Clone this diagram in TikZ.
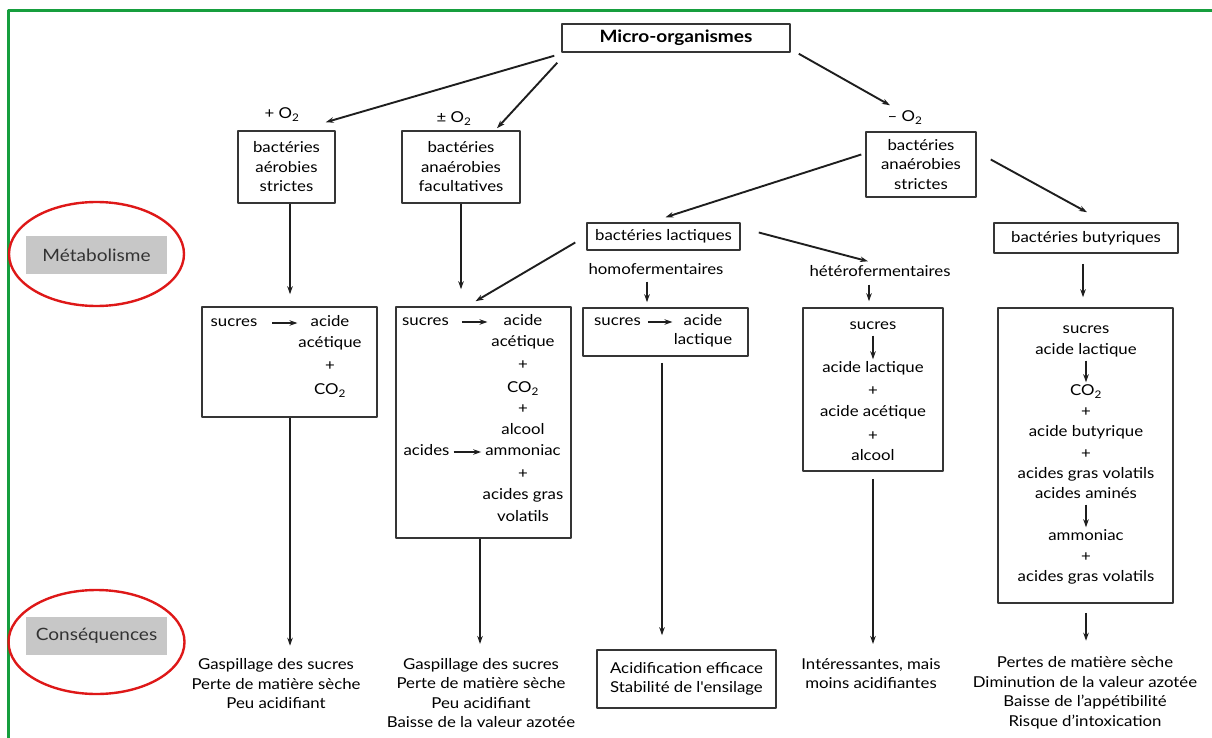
\documentclass[tikz,border=0pt]{standalone}
\usepackage{fontspec}
\setmainfont{Lato}[FakeStretch=1.12]
\usetikzlibrary{arrows.meta}
\definecolor{cadre}{RGB}{22,158,62}
\definecolor{ovale}{RGB}{222,24,24}
\definecolor{trait}{RGB}{30,30,30}
\tikzset{
	boite/.style={draw=trait!90, line width=1.5pt, inner sep=0pt, align=center},
	txt/.style={inner sep=0pt, text height=10pt, text depth=3pt},
	etiq/.style={fill=black!22, text=black!80, minimum width=141, minimum height=38, font=\fontsize{17}{20}\selectfont},
	fl/.style={->, line width=1.9pt, draw=trait},
}
\begin{document}
\begin{tikzpicture}[x=1pt, y=-1pt, font=\fontsize{15}{19.5}\selectfont, >={Stealth[length=8pt,width=5.5pt]}, line join=round]
	\useasboundingbox (0,0) rectangle (1212,738);
	\draw[cadre, line width=3.4] (8.3,738) -- (8.3,10.7) -- (1212,10.7);
	% etiquettes a gauche
	\node[etiq] (met) at (96.5,255) {Métabolisme};
	\node[etiq] (csq) at (96.5,636) {Conséquences};
	\draw[ovale, line width=2.4] ([yshift=1]met.center) ellipse [x radius=87.5, y radius=52];
	\draw[ovale, line width=2.4] ([yshift=-6]csq.center) ellipse [x radius=88, y radius=52];
	% haut
	\node[boite, minimum width=228, minimum height=28, font=\fontsize{17}{20}\bfseries] (micro) at (676,38) {Micro-organismes};
	\node[txt] (o1) at (282,115) {+ O\textsubscript{2}};
	\node[txt] (o2) at (454,119) {± O\textsubscript{2}};
	\node[txt] (o3) at (905,118) {– O\textsubscript{2}};
	\node[boite, minimum width=97, minimum height=72] (aer) at (286.5,167) {bactéries\\aérobies\\strictes};
	\node[boite, minimum width=118, minimum height=72] (fac) at (461,167) {bactéries\\anaérobies\\facultatives};
	\node[boite, minimum width=110, minimum height=65] (stri) at (921,164.5) {bactéries\\anaérobies\\strictes};
	\node[boite, minimum width=153, minimum height=27] (lac) at (663.5,236.5) {bactéries lactiques};
	\node[boite, minimum width=184, minimum height=30] (but) at (1086,238) {bactéries butyriques};
	\node[txt] (homo) at (656,271) {homofermentaires};
	\node[txt] (het) at (880,273) {hétérofermentaires};
	% boites du metabolisme
	\node[boite, minimum width=175, minimum height=110] (mA) at (289.5,362) {};
	\node[boite, minimum width=175, minimum height=231] (mB) at (483.5,422.5) {};
	\node[boite, minimum width=165, minimum height=48] (mC) at (665.5,332) {};
	\node[boite, minimum width=140, minimum height=163] (mD) at (873,389.5) {};
	\node[boite, minimum width=175, minimum height=295] (mE) at (1085.5,455.5) {};
	\draw[fl] ([shift={(-7,3)}]micro.south west) -- ([shift={(-10,-8)}]aer.north east);
	\draw[fl] ([shift={(-4,10)}]micro.south west) -- ([shift={(36,-2)}]fac.north);
	\draw[fl] ([shift={(8,1)}]micro.south east) -- ([shift={(-15,-6)}]o3.north);
	\draw[fl] ([shift={(-4,-10)}]stri.west) -- ([shift={(2,-5)}]lac.north);
	\draw[fl] ([shift={(14,-5)}]stri.east) -- ([shift={(1,-10)}]but.north);
	\draw[fl] ([shift={(18,-4)}]lac.east) -- ([shift={(-12,-5)}]het.north);
	\draw[fl] ([shift={(-11,6)}]lac.west) -- ([shift={(-8,-5)}]mB.north);
	\draw[fl, shorten >=12] ([xshift=0.5]mA.north |- aer.south) -- ([xshift=0.5]mA.north);
	\draw[fl, shorten >=17] (fac.south) -- (fac.south |- mB.north);
	\draw[fl, shorten <=4, shorten >=5] ([xshift=-9]homo.south) -- ([xshift=-9]homo.south |- mC.north);
	\draw[fl, shorten <=5, shorten >=6] ([xshift=-11]het.south) -- ([xshift=-11]het.south |- mD.north);
	\draw[fl, shorten <=10, shorten >=10] ([xshift=-3]but.south) -- ([xshift=-3]but.south |- mE.north);
	% A
	\node[txt] (a0) at (234,323) {sucres};
	\foreach \t/\y [count=\i] in {acide/323, acétique/344, +/367, CO\textsubscript{2}/391}
		\node[txt] (a\i) at (330,\y) {\t};
	\draw[fl, shorten <=15, shorten >=13] (a0) -- (a1);
	% B
	\node[txt] (b0) at (425.5,322) {sucres};
	\node[txt] (bx) at (426.5,452) {acides};
	\foreach \t/\y [count=\i] in {acide/322, acétique/343, +/366, CO\textsubscript{2}/389, +/410, alcool/431, ammoniac/452, +/475, acides gras/496, volatils/518}
		\node[txt] (b\i) at (523,\y) {\t};
	\draw[fl, shorten <=13, shorten >=16] (b0) -- (b1);
	\draw[fl, shorten <=4, shorten >=4] (bx) -- (b7);
	% C
	\node[txt] (c0) at (617.5,322) {sucres};
	\node[txt] (c1) at (703,322) {acide};
	\node[txt] (c2) at (703,341) {lactique};
	\draw[fl, shorten <=7, shorten >=11] (c0) -- (c1);
	% D
	\foreach \t/\y [count=\i] in {sucres/326, acide lactique/369, +/392, acide acétique/413, +/437, alcool/457}
		\node[txt] (d\i) at (873,\y) {\t};
	\draw[fl, shorten <=3, shorten >=3] (d1) -- (d2);
	% E
	\foreach \t/\y [count=\i] in {sucres/330, acide lactique/351, CO\textsubscript{2}/392, +/413, acide butyrique/433, +/455, acides gras volatils/475, acides aminés/495, ammoniac/537, +/558, acides gras volatils/578}
		\node[txt] (e\i) at (1086,\y) {\t};
	\draw[fl, shorten <=3, shorten >=3] (e2) -- (e3);
	\draw[fl, shorten <=3, shorten >=3] (e8) -- (e9);
	% consequences
	\node[align=center, inner sep=0pt] (kA) at (276,684) {Gaspillage des sucres\\Perte de matière sèche\\Peu acidifiant};
	\node[align=center, inner sep=0pt] (kB) at (481,693) {Gaspillage des sucres\\Perte de matière sèche\\Peu acidifiant\\Baisse de la valeur azotée};
	\node[boite, minimum width=179, minimum height=58] (kC) at (686.5,679) {Acidification efficace\\Stabilité de l\textquotesingle ensilage};
	\node[align=center, inner sep=0pt] (kD) at (871,673.5) {Intéressantes, mais\\moins acidifiantes};
	\node[align=center, inner sep=0pt] (kE) at (1085,693) {Pertes de matière sèche\\Diminution de la valeur azotée\\Baisse de l’appétibilité\\Risque d’intoxication};
	\draw[fl, shorten >=13] ([xshift=0.5]mA.south) -- ([xshift=0.5]mA.south |- kA.north);
	\draw[fl, shorten >=14] ([xshift=-3.5]mB.south) -- ([xshift=-3.5]mB.south |- kB.north);
	\draw[fl, shorten <=6, shorten >=14] ([xshift=-3.5]mC.south) -- ([xshift=-3.5]mC.south |- kC.north);
	\draw[fl, shorten <=7, shorten >=14] (mD.south) -- (mD.south |- kD.north);
	\draw[fl, shorten <=9, shorten >=16] ([xshift=0.5]mE.south) -- ([xshift=0.5]mE.south |- kE.north);
\end{tikzpicture}
\end{document}
